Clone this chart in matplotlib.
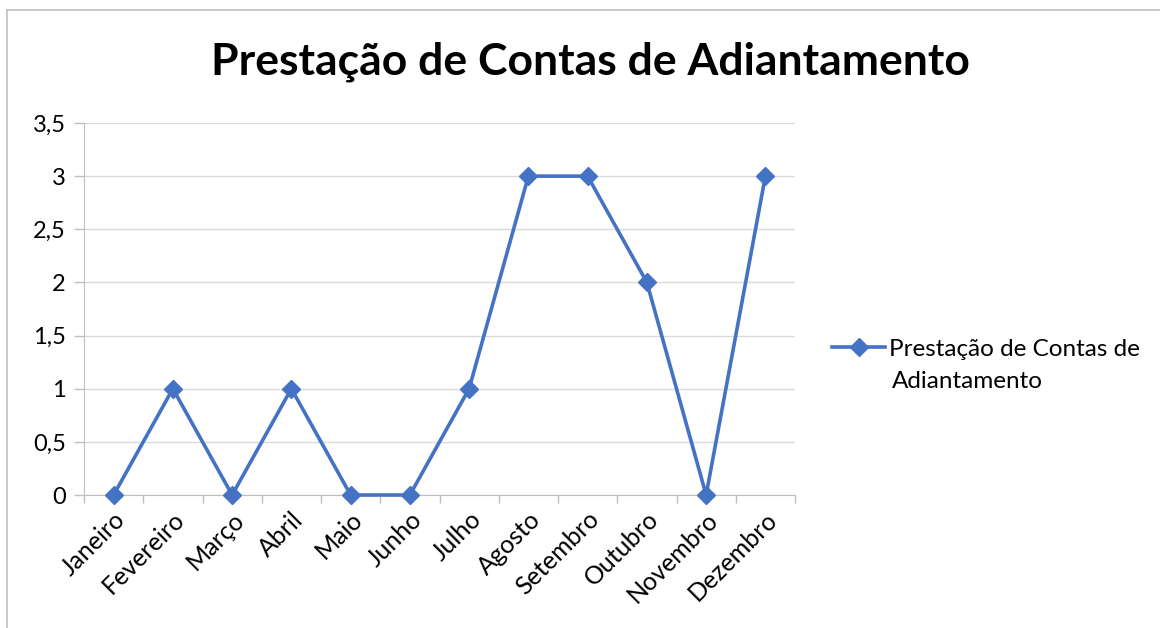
import matplotlib
matplotlib.use("Agg")
import matplotlib.pyplot as plt
from matplotlib.lines import Line2D

months = ["Janeiro", "Fevereiro", "Março", "Abril", "Maio", "Junho",
          "Julho", "Agosto", "Setembro", "Outubro", "Novembro", "Dezembro"]
values = [0, 1, 0, 1, 0, 0, 1, 3, 3, 2, 0, 3]
yticks = [0, 0.5, 1, 1.5, 2, 2.5, 3, 3.5]
yticklabels = ["0", "0,5", "1", "1,5", "2", "2,5", "3", "3,5"]
series_name_lines = ["Prestação de Contas de", "Adiantamento"]
title = "Prestação de Contas de Adiantamento"

FONT = ["Lato", "DejaVu Sans"]
plt.rcParams['font.family'] = FONT

W, H = 1160, 628
fig = plt.figure(figsize=(W / 100, H / 100), dpi=100)
fig.patch.set_facecolor("white")

# chart border (partly visible)
bx, by = 7 / W, 1 - 10 / H
fig.add_artist(Line2D([bx, bx], [0, by], transform=fig.transFigure, color="#bfbfbf", lw=1.2))
fig.add_artist(Line2D([bx, 1], [by, by], transform=fig.transFigure, color="#bfbfbf", lw=1.2))

left, right = 84 / W, 795 / W
bottom, top = 1 - 495 / H, 1 - 123 / H
ax = fig.add_axes([left, bottom, right - left, top - bottom])

x = list(range(len(months)))
color = "#4472C4"
ax.plot(x, values, color=color, lw=2.6, marker="D", markersize=9.5,
        markeredgecolor=color, markerfacecolor=color, label=series_name_lines[0],
        clip_on=False, zorder=3)

ax.set_xlim(-0.5, len(months) - 0.5)
ax.set_ylim(0, 3.5)
ax.set_yticks(yticks)
ax.set_yticklabels(yticklabels, fontsize=17, color="#000000")
ax.yaxis.grid(True, color="#d9d9d9", lw=1)
ax.set_axisbelow(True)

ax.set_xticks(x)
ax.set_xticklabels(months, rotation=45, ha="right", rotation_mode="anchor",
                   fontsize=18, color="#000000")
ax.tick_params(axis="x", length=0, pad=9)
ax.set_xticks([i - 0.5 for i in range(len(months) + 1)], minor=True)
ax.tick_params(axis="x", which="minor", length=6, color="#bfbfbf", width=1)
ax.tick_params(axis="y", length=7, color="#bfbfbf", width=1, pad=6)

for s in ["top", "right"]:
    ax.spines[s].set_visible(False)
ax.spines["left"].set_color("#bfbfbf")
ax.spines["bottom"].set_color("#bfbfbf")

fig.text(590 / W, 1 - 62 / H, title, ha="center", va="center",
         fontsize=32, fontweight="bold", color="#000000")

leg = fig.legend(loc="center left", bbox_to_anchor=(832 / W, 1 - 349 / H),
                 frameon=False, fontsize=17.5, handlelength=2.2,
                 handletextpad=0.15, borderaxespad=0, borderpad=0)
fig.text(892 / W, 1 - 381 / H, series_name_lines[1], ha="left", va="center",
         fontsize=17.5, color="#000000")

fig.savefig("out.png", dpi=100)
